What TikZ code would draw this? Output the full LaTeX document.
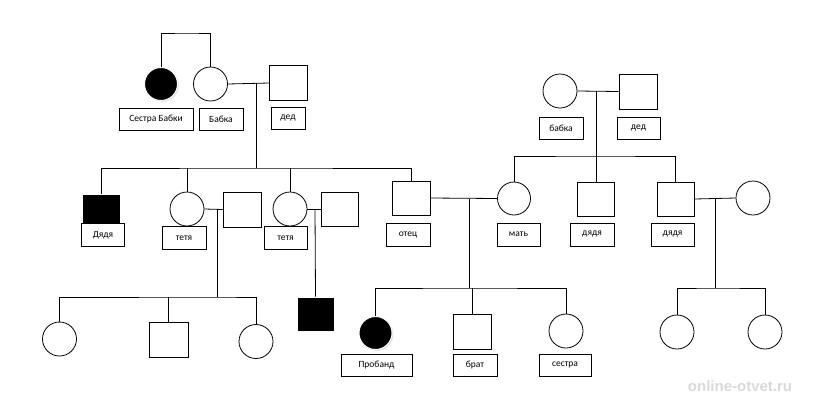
\documentclass[tikz,border=0pt]{standalone}
\usepackage{fontspec}
\setmainfont{Carlito}
\newfontfamily\wmfont{Liberation Sans}
\usetikzlibrary{shadows}
\begin{document}
\begin{tikzpicture}[x=1pt,y=-1pt,
  every path/.style={line width=0.8pt},
  sq/.style={draw, rectangle, minimum width=37pt, minimum height=34pt, inner sep=0pt, fill=white},
  ci/.style={draw, circle, minimum size=34pt, inner sep=0pt, fill=white},
  aff/.style={fill=black, draw=white, line width=1pt, drop shadow={shadow xshift=1.3pt, shadow yshift=-1.3pt, fill=gray!50, opacity=0.5}},
  lbl/.style={draw, rectangle, fill=white, minimum height=22pt, inner sep=0pt, font=\fontsize{9.5}{11}\selectfont},
  line/.style={draw, line width=0.8pt}
]
\useasboundingbox (0,0) rectangle (816,400);
% ---------- left grandparents ----------
\node[ci, aff, minimum size=33pt] (sb) at (161,84) {};
\node[ci] (bab1) at (210.5,84) {};
\node[sq, minimum width=38pt, minimum height=35pt] (ded1) at (288.5,83) {};
\node[lbl, minimum width=74pt] (sbL) at (156,119) {Сестра Бабки};
\node[lbl, minimum width=44pt] (bab1L) at (221,119) {Бабка};
\node[lbl, minimum width=34pt] (ded1L) at (288,118) {дед};
\coordinate (top1) at (188,33);
\draw (sb.north) |- (top1) -| (bab1.north);
\draw (bab1.east) -- (ded1.west);
\coordinate (m1) at (256,83);
\coordinate (s1) at (256,168);
\draw (m1) -- (s1);
% ---------- generation 2 left ----------
\node[sq, aff, minimum width=38pt, minimum height=36pt] (dy1) at (101,212) {};
\node[lbl, minimum width=43pt, minimum height=23pt] (dy1L) at (103,235) {Дядя};
\node[ci] (tet1) at (187,209) {};
\node[lbl, minimum width=44pt, minimum height=23pt] (tet1L) at (184,238) {тетя};
\node[sq, minimum width=38pt, minimum height=35pt] (hus1) at (242,209.5) {};
\node[ci] (tet2) at (290,209) {};
\node[lbl, minimum width=43pt, minimum height=23pt] (tet2L) at (285.5,238) {тетя};
\node[sq] (hus2) at (339.5,209) {};
\node[sq, minimum width=38pt] (otec) at (411,198) {};
\node[lbl, minimum width=44pt, minimum height=23pt] (otecL) at (408,234.5) {отец};
\draw (dy1.north) |- (s1) -| (otec.north);
\draw (tet1.north) -- (tet1.north |- s1);
\draw (tet2.north) -- (tet2.north |- s1);
\draw (tet1.east) -- (hus1.west);
\draw (tet2.east) -- (hus2.west);
\coordinate (m2) at (217,209);
\coordinate (m3) at (315,209);
% ---------- right grandparents ----------
\node[ci] (bab2) at (560,91) {};
\node[sq, minimum width=38pt, minimum height=35pt] (ded2) at (638,91.5) {};
\node[lbl, minimum width=44pt] (bab2L) at (561,128) {бабка};
\node[lbl, minimum width=43pt] (ded2L) at (638.5,128) {дед};
\draw (bab2.east) -- (ded2.west);
\coordinate (m5) at (596,91);
\coordinate (s2) at (596,156);
\draw (m5) -- (s2);
\node[ci, minimum size=33pt] (mat) at (514,198.5) {};
\node[lbl, minimum width=43pt, minimum height=23pt] (matL) at (518.5,234.5) {мать};
\node[sq] (dy2) at (596,199) {};
\node[lbl, minimum width=44pt, minimum height=23pt] (dy2L) at (592,234.5) {дядя};
\node[sq] (dy3) at (675.5,199) {};
\node[lbl, minimum width=43pt, minimum height=23pt] (dy3L) at (672.5,234.5) {дядя};
\node[ci] (wife) at (753,198) {};
\draw (mat.north) |- (s2) -| (dy3.north);
\draw (dy2.north) -- (s2);
\draw (otec.east) -- (mat.west);
\draw (dy3.east) -- (wife.west);
\coordinate (m4) at (469,198.5);
\coordinate (m6) at (715,198.5);
% ---------- generation 3 ----------
\coordinate (s3) at (217,297);
\draw (m2) -- (s3);
\node[ci] (c1) at (59.5,339) {};
\node[sq, minimum width=39pt, minimum height=35pt] (c2) at (168.5,339.5) {};
\node[ci] (c3) at (256,341.5) {};
\draw (c1.north) |- (s3) -| (c3.north);
\draw (c2.north) -- (c2.north |- s3);
\node[sq, aff, minimum width=37pt, minimum height=34pt] (fs) at (315.5,314) {};
\draw (m3) -- (fs.north);
\coordinate (s4) at (469,288);
\draw (m4) -- (s4);
\node[ci, aff, minimum size=33pt] (prob) at (375.5,333) {};
\node[lbl, minimum width=71pt] (probL) at (376.5,365) {Пробанд};
\node[sq, minimum width=38pt, minimum height=35pt] (brat) at (472,331.5) {};
\node[lbl, minimum width=44pt] (bratL) at (475,365) {брат};
\node[ci] (sis) at (566,331) {};
\node[lbl, minimum width=52pt] (sisL) at (565,365) {сестра};
\draw (prob.north) |- (s4) -| (sis.north);
\draw (brat.north) -- (brat.north |- s4);
\coordinate (s5) at (715,288);
\draw (m6) -- (s5);
\node[ci] (r1) at (677,332) {};
\node[ci] (r2) at (765,332) {};
\draw (r1.north) |- (s5) -| (r2.north);
% ---------- watermark ----------
\node[font=\wmfont\bfseries\fontsize{15}{17}\selectfont, text=gray!30] (wm) at (740,386) {online-otvet.ru};
\end{tikzpicture}
\end{document}
